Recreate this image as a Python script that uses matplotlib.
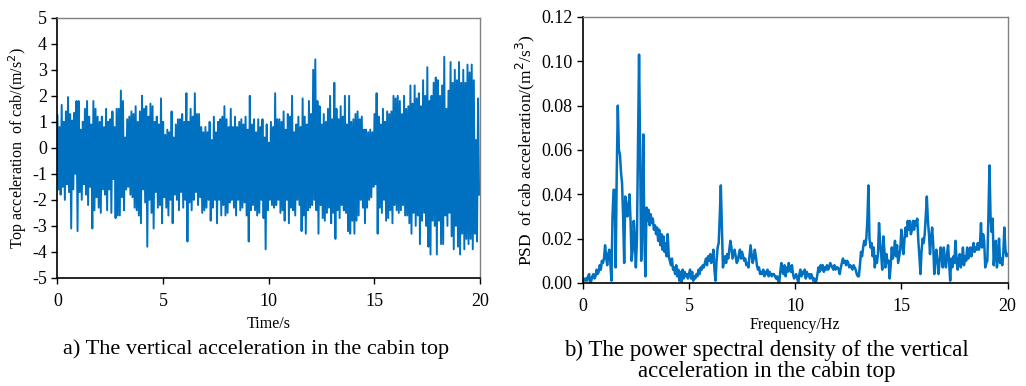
import numpy as np
import matplotlib
matplotlib.use("Agg")
import matplotlib.pyplot as plt

plt.rcParams['font.family'] = ['Liberation Serif', 'DejaVu Serif']
plt.rcParams['axes.unicode_minus'] = False

# a) cab top acceleration: upper and lower peaks, 10 per second
accel_upper = [
    1.25, 0.8, 1.65, 1.0, 1.4, 1.95, 1.3, 1.05, 1.35, 1.8,
    1.8, 0.7, 1.0, 1.5, 1.8, 1.2, 0.9, 1.8, 1.5, 1.2,
    1.0, 1.2, 0.8, 1.5, 1.0, 1.1, 1.4, 0.8, 1.5, 1.5,
    2.2, 1.8, 0.4, 1.1, 1.2, 1.4, 1.3, 1.6, 1.0, 1.4,
    2.0, 1.5, 1.6, 1.2, 1.7, 1.6, 1.0, 1.2, 0.9, 1.9,
    1.0, 0.5, 0.7, 0.6, 1.4, 0.4, 0.9, 1.1, 1.1, 1.3,
    1.0, 2.1, 1.0, 1.5, 1.2, 2.1, 1.3, 1.3, 0.8, 0.6,
    0.8, 0.6, 1.0, 0.3, 1.2, 0.6, 1.0, 1.1, 1.2, 1.6,
    1.1, 0.8, 1.5, 0.8, 1.2, 0.8, 1.0, 1.1, 0.9, 1.2,
    0.7, 2.0, 0.9, 1.1, 0.6, 1.1, 0.8, 1.1, 0.4, 0.9,
    0.2, 1.0, 0.8, 2.1, 1.1, 1.1, 1.0, 1.4, 0.7, 1.3,
    1.2, 2.0, 0.6, 0.9, 1.2, 0.8, 1.9, 1.2, 0.9, 1.8,
    1.3, 3.0, 3.4, 1.8, 1.6, 0.9, 1.3, 1.0, 1.5, 2.0,
    1.1, 2.5, 1.5, 1.1, 1.6, 1.2, 2.0, 0.9, 2.0, 1.0,
    1.1, 1.3, 1.4, 1.1, 1.2, 0.7, 0.7, 0.6, 0.7, 0.6,
    1.3, 2.1, 1.2, 0.9, 1.5, 1.0, 1.4, 1.3, 1.4, 2.0,
    1.9, 2.0, 1.8, 1.3, 2.0, 1.5, 1.6, 2.4, 1.7, 2.4,
    1.9, 2.1, 1.6, 2.6, 2.0, 3.1, 1.8, 2.0, 2.5, 2.7,
    2.6, 2.0, 2.4, 3.5, 1.5, 2.2, 3.3, 2.5, 3.0, 2.6,
    3.3, 2.5, 3.0, 2.5, 3.2, 2.9, 3.2, 2.6, 0.3, 1.9,
]
accel_lower = [
    -1.6, -1.8, -1.5, -2.0, -1.4, -1.7, -3.1, -1.6, -1.0, -3.2,
    -1.7, -2.0, -1.4, -1.8, -2.2, -1.5, -3.1, -2.4, -1.9, -2.3,
    -2.5, -1.6, -1.8, -2.4, -1.6, -2.5, -1.2, -2.7, -2.6, -2.6,
    -1.9, -2.4, -1.6, -1.5, -1.8, -1.9, -2.3, -2.4, -2.6, -2.9,
    -1.6, -2.1, -3.8, -2.0, -2.5, -3.1, -1.7, -2.3, -2.2, -2.9,
    -1.9, -2.3, -2.6, -2.0, -2.9, -1.8, -2.0, -2.4, -1.7, -2.3,
    -2.0, -3.6, -2.1, -2.4, -2.0, -1.7, -2.2, -1.9, -2.5, -2.4,
    -2.3, -2.0, -2.8, -2.3, -2.0, -2.9, -2.0, -2.6, -2.2, -2.6,
    -2.5, -2.1, -2.0, -2.3, -2.6, -2.0, -2.4, -2.3, -2.1, -2.6,
    -3.6, -2.4, -2.2, -2.4, -2.6, -2.5, -2.0, -2.7, -3.9, -2.4,
    -2.0, -2.2, -2.3, -2.2, -2.0, -2.5, -2.4, -2.8, -2.0, -2.9,
    -2.3, -2.4, -2.6, -2.0, -2.2, -3.2, -2.6, -3.3, -2.4, -2.3,
    -2.2, -2.0, -2.4, -3.3, -2.2, -2.7, -2.8, -2.5, -2.3, -2.9,
    -2.5, -3.5, -2.4, -2.7, -2.2, -2.4, -2.5, -3.2, -3.3, -2.8,
    -3.3, -2.8, -2.6, -2.0, -2.3, -2.9, -2.3, -2.0, -1.9, -1.5,
    -1.4, -3.3, -2.3, -2.5, -2.0, -2.8, -2.7, -2.4, -2.9, -2.2,
    -2.4, -2.5, -2.4, -2.2, -2.6, -2.6, -2.9, -3.3, -2.5, -3.0,
    -2.6, -3.7, -2.8, -2.5, -3.0, -3.8, -4.1, -2.8, -3.0, -4.1,
    -2.8, -3.7, -3.7, -2.6, -3.0, -2.5, -3.4, -3.9, -3.0, -3.8,
    -4.1, -3.3, -3.9, -3.5, -3.7, -3.5, -3.9, -3.3, -3.6, -1.8,
]

# b) PSD, 0.05 Hz steps, 20 values per Hz
psd = [
    0.001, 0.002, 0.001, 0.002, 0.001, 0.003, 0.004, 0.000, 0.001, 0.003, 0.004, 0.002, 0.003, 0.006, 0.004, 0.005, 0.008, 0.006, 0.010, 0.009,
    0.011, 0.017, 0.012, 0.008, 0.013, 0.015, 0.009, 0.001, 0.030, 0.042, 0.042, 0.007, 0.050, 0.080, 0.060, 0.058, 0.050, 0.045, 0.030, 0.009,
    0.039, 0.036, 0.030, 0.033, 0.040, 0.028, 0.010, 0.015, 0.028, 0.020, 0.007, 0.020, 0.060, 0.103, 0.060, 0.010, 0.030, 0.067, 0.020, 0.003,
    0.034, 0.028, 0.033, 0.026, 0.031, 0.027, 0.029, 0.024, 0.026, 0.022, 0.025, 0.019, 0.024, 0.017, 0.022, 0.015, 0.021, 0.014, 0.018, 0.012,
    0.022, 0.012, 0.010, 0.008, 0.011, 0.006, 0.007, 0.004, 0.008, 0.003, 0.006, 0.001, 0.005, 0.000, 0.006, 0.002, 0.005, 0.003, 0.004, 0.002,
    0.004, 0.006, 0.002, 0.005, 0.001, 0.003, 0.002, 0.004, 0.003, 0.006, 0.004, 0.007, 0.006, 0.008, 0.007, 0.009, 0.011, 0.008, 0.012, 0.010,
    0.013, 0.009, 0.011, 0.015, 0.006, 0.001, 0.010, 0.016, 0.018, 0.030, 0.044, 0.025, 0.007, 0.010, 0.012, 0.009, 0.013, 0.011, 0.015, 0.019,
    0.016, 0.011, 0.013, 0.015, 0.012, 0.009, 0.010, 0.013, 0.015, 0.011, 0.014, 0.012, 0.010, 0.011, 0.008, 0.009, 0.007, 0.012, 0.017, 0.013,
    0.009, 0.011, 0.015, 0.012, 0.008, 0.006, 0.007, 0.004, 0.005, 0.004, 0.006, 0.003, 0.005, 0.004, 0.006, 0.003, 0.005, 0.004, 0.003, 0.004,
    0.004, 0.003, 0.002, 0.003, 0.001, 0.000, 0.005, 0.009, 0.005, 0.004, 0.008, 0.003, 0.007, 0.005, 0.009, 0.006, 0.005, 0.008, 0.004, 0.002,
    0.003, 0.004, 0.002, 0.000, 0.004, 0.006, 0.003, 0.005, 0.004, 0.006, 0.002, 0.005, 0.003, 0.004, 0.002, 0.004, 0.003, 0.001, 0.002, 0.000,
    0.001, 0.004, 0.007, 0.005, 0.008, 0.006, 0.008, 0.005, 0.007, 0.006, 0.008, 0.006, 0.007, 0.009, 0.008, 0.007, 0.006, 0.008, 0.006, 0.007,
    0.007, 0.006, 0.004, 0.007, 0.009, 0.011, 0.009, 0.010, 0.008, 0.010, 0.009, 0.007, 0.008, 0.007, 0.006, 0.008, 0.007, 0.006, 0.004, 0.003,
    0.003, 0.008, 0.014, 0.012, 0.016, 0.019, 0.017, 0.020, 0.028, 0.044, 0.020, 0.016, 0.018, 0.012, 0.016, 0.007, 0.012, 0.009, 0.013, 0.027,
    0.018, 0.013, 0.006, 0.021, 0.015, 0.007, 0.013, 0.009, 0.010, 0.002, 0.008, 0.016, 0.011, 0.014, 0.019, 0.012, 0.017, 0.009, 0.012, 0.015,
    0.024, 0.018, 0.013, 0.020, 0.025, 0.021, 0.028, 0.024, 0.028, 0.022, 0.024, 0.028, 0.024, 0.028, 0.026, 0.029, 0.019, 0.012, 0.004, 0.014,
    0.020, 0.018, 0.022, 0.030, 0.039, 0.028, 0.022, 0.013, 0.020, 0.025, 0.018, 0.004, 0.012, 0.015, 0.009, 0.004, 0.010, 0.016, 0.012, 0.007,
    0.016, 0.010, 0.007, 0.013, 0.017, 0.009, 0.001, 0.011, 0.007, 0.012, 0.009, 0.019, 0.010, 0.006, 0.011, 0.013, 0.007, 0.010, 0.016, 0.008,
    0.012, 0.010, 0.016, 0.011, 0.013, 0.016, 0.012, 0.015, 0.018, 0.014, 0.016, 0.015, 0.018, 0.015, 0.017, 0.027, 0.016, 0.022, 0.019, 0.007,
    0.009, 0.010, 0.030, 0.053, 0.030, 0.023, 0.029, 0.008, 0.015, 0.019, 0.007, 0.012, 0.020, 0.009, 0.011, 0.008, 0.013, 0.025, 0.015, 0.012,
    0.013,
]

# interleave peaks into one signal
accel = np.empty(2 * len(accel_upper))
accel[0::2] = accel_upper
accel[1::2] = accel_lower
time = np.arange(len(accel)) * 0.05
freq = np.arange(len(psd)) * 0.05

blue = '#0070C0'
fig = plt.figure(figsize=(10.26, 3.86), dpi=100)
ax1 = fig.add_axes([0.056, 0.280, 0.412, 0.674])
ax2 = fig.add_axes([0.568, 0.267, 0.414, 0.689])

ax1.plot(time, accel, color=blue, lw=1.4)
ax1.set_xlim(0, 20)
ax1.set_ylim(-5, 5)
ax1.set_xticks([0, 5, 10, 15, 20])
ax1.set_yticks(range(-5, 6))
ax1.set_xlabel('Time/s', fontsize=11.5, labelpad=4)
ax1.set_ylabel('Top acceleration  of cab/(m/s$^2$)', fontsize=11.5, labelpad=2)

ax2.plot(freq, psd, color=blue, lw=1.8)
ax2.set_xlim(0, 20)
ax2.set_ylim(0, 0.12)
ax2.set_xticks([0, 5, 10, 15, 20])
ax2.set_yticks(np.arange(0, 0.121, 0.02))
ax2.set_yticklabels(['%.2f' % v for v in np.arange(0, 0.121, 0.02)])
ax2.set_xlabel('Frequency/Hz', fontsize=11.5, labelpad=1)
ax2.set_ylabel('PSD  of cab acceleration/(m$^2$/s$^3$)', fontsize=12.5, labelpad=3)

for ax in (ax1, ax2):
    ax.tick_params(direction='out', length=4, width=1, labelsize=13)
    ax.tick_params(axis='x', pad=7)
    ax.spines['left'].set_linewidth(1.2)
    ax.spines['bottom'].set_linewidth(1.2)
    for s in ('top', 'right'):
        ax.spines[s].set_color('#808080')
        ax.spines[s].set_linewidth(1.0)

fig.text(0.250, 1 - 349 / 386, 'a) The vertical acceleration in the cabin top',
         ha='center', va='center', fontsize=16)
fig.text(0.747, 1 - 361 / 386, 'b) The power spectral density of the vertical\nacceleration in the cabin top',
         ha='center', va='center', fontsize=16.5, multialignment='center', linespacing=1.05)

fig.savefig('out.png', dpi=100)
